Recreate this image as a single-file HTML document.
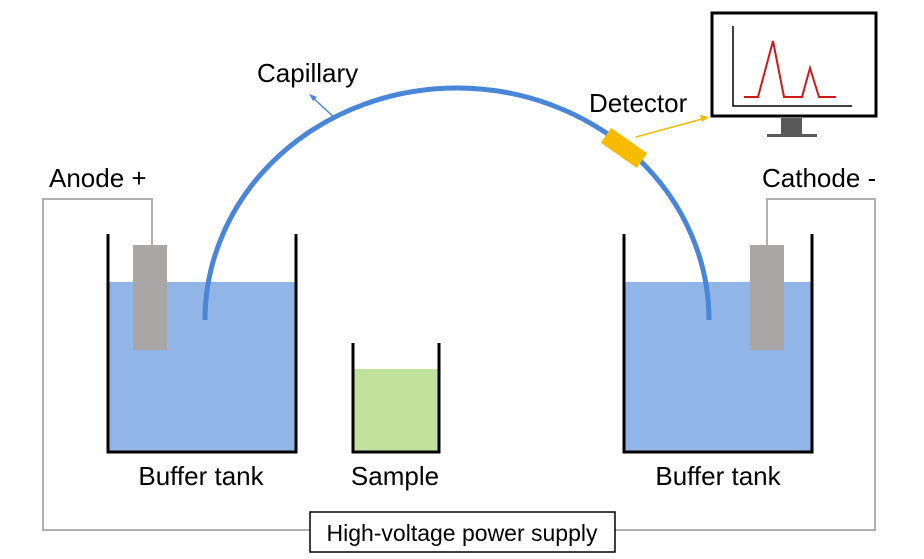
<!DOCTYPE html>
<html><head><style>body{margin:0;background:#fff}svg{display:block}text{font-family:"Liberation Sans",sans-serif;font-size:26px;fill:#000}</style></head>
<body><svg width="924" height="559" viewBox="0 0 924 559">
<rect x="108" y="282" width="188" height="170" fill="#92b5e8"/>
<rect x="624" y="282" width="188" height="170" fill="#92b5e8"/>
<rect x="353" y="369" width="86" height="83" fill="#c1e29c"/>
<g fill="none" stroke="#000" stroke-width="3">
<path d="M108,234V452H296V234"/><path d="M624,234V452H812V234"/><path d="M353,343V452H439V343"/>
</g>
<g fill="none" stroke="#b0b0b0" stroke-width="2">
<path d="M152,245V199H43V530H310"/><path d="M767,245V199H875V530H615"/>
</g>
<rect x="133" y="245" width="34" height="105" fill="#aaa6a6"/>
<rect x="750" y="245" width="34" height="105" fill="#aaa6a6"/>
<path d="M205,320 A252 232 0 0 1 709 320" fill="none" stroke="#4a86d8" stroke-width="5"/>
<line x1="336" y1="119" x2="312" y2="97" stroke="#4a86d8" stroke-width="1.5"/>
<path d="M309,94 L317,97 L313,101Z" fill="#4a86d8"/>
<line x1="636" y1="137" x2="702" y2="119" stroke="#f2b800" stroke-width="1.5"/>
<path d="M709,117 L700,115 L702,122Z" fill="#f2b800"/>
<rect x="-22" y="-9" width="44" height="18" fill="#f7bb00" transform="translate(624,148) rotate(35)"/>
<rect x="712" y="13" width="164" height="103" fill="#fff" stroke="#000" stroke-width="3"/>
<rect x="781" y="118" width="21" height="16" fill="#595959"/>
<rect x="767" y="134" width="50" height="3" fill="#595959"/>
<path d="M733,26V106H852" fill="none" stroke="#000" stroke-width="1.5"/>
<path d="M744,97H758L773,41L784,97H802L810,68L819,97H836" fill="none" stroke="#cc1a1a" stroke-width="2"/>
<rect x="310" y="512" width="305" height="40" fill="#fff" stroke="#000" stroke-width="1.5"/>
<text x="462" y="541" text-anchor="middle" style="font-size:23px">High-voltage power supply</text>
<text x="257" y="82">Capillary</text>
<text x="589" y="112">Detector</text>
<text x="49" y="187">Anode +</text>
<text x="762" y="187">Cathode -</text>
<text x="201" y="485" text-anchor="middle">Buffer tank</text>
<text x="395" y="485" text-anchor="middle">Sample</text>
<text x="718" y="485" text-anchor="middle">Buffer tank</text>
</svg></body></html>
